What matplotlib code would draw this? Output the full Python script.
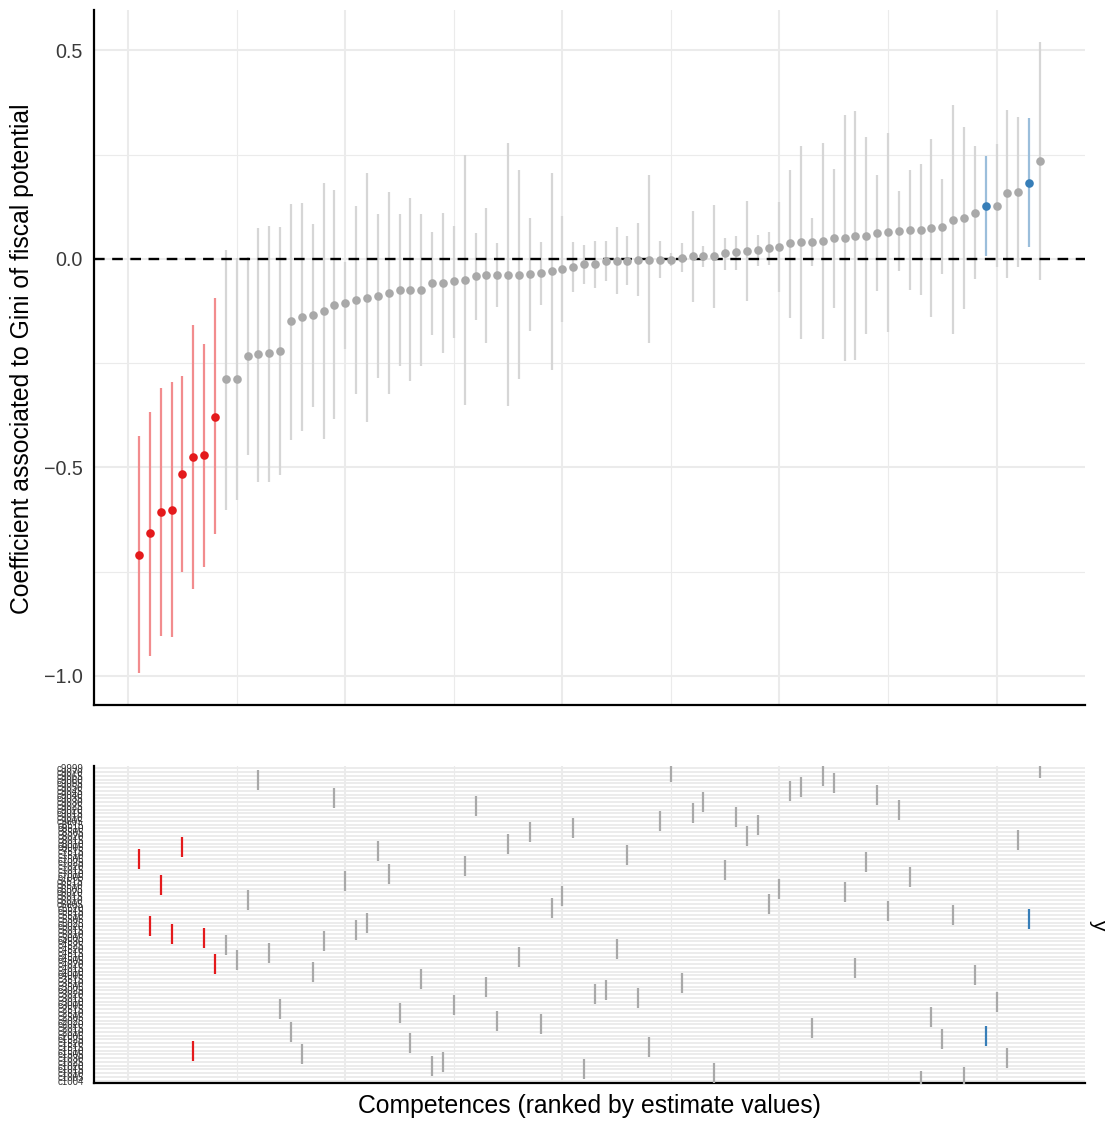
import numpy as np
import matplotlib
matplotlib.use('Agg')
from matplotlib import pyplot as plt
from matplotlib.ticker import MultipleLocator

plt.rcParams['font.family'] = ['Liberation Sans', 'DejaVu Sans']

# estimates ranked from lowest to highest, with their 95% intervals
estimate = [-0.709, -0.658, -0.606, -0.601, -0.517, -0.474, -0.471, -0.378, -0.289, -0.287,
            -0.233, -0.229, -0.226, -0.220, -0.150, -0.139, -0.135, -0.124, -0.110, -0.106,
            -0.098, -0.093, -0.089, -0.082, -0.075, -0.074, -0.074, -0.058, -0.057, -0.054,
            -0.050, -0.042, -0.039, -0.038, -0.038, -0.038, -0.037, -0.035, -0.030, -0.025,
            -0.020, -0.013, -0.012, -0.005, -0.005, -0.005, -0.002, -0.002, -0.002, -0.002,
            0.002, 0.006, 0.006, 0.008, 0.014, 0.017, 0.019, 0.022, 0.026, 0.029,
            0.037, 0.040, 0.041, 0.043, 0.049, 0.049, 0.055, 0.056, 0.061, 0.064,
            0.067, 0.070, 0.070, 0.073, 0.077, 0.093, 0.097, 0.111, 0.127, 0.127,
            0.157, 0.161, 0.183, 0.235]
conf_low = [-0.994, -0.952, -0.904, -0.906, -0.752, -0.791, -0.739, -0.659, -0.601, -0.578,
            -0.471, -0.534, -0.534, -0.518, -0.435, -0.412, -0.355, -0.431, -0.385, -0.217,
            -0.324, -0.390, -0.286, -0.324, -0.257, -0.293, -0.256, -0.182, -0.225, -0.189,
            -0.351, -0.147, -0.201, -0.115, -0.353, -0.289, -0.173, -0.110, -0.266, -0.152,
            -0.080, -0.060, -0.069, -0.053, -0.085, -0.062, -0.088, -0.201, -0.046, -0.018,
            -0.032, -0.104, -0.019, -0.118, -0.026, -0.026, -0.101, -0.018, -0.014, -0.080,
            -0.141, -0.192, -0.018, -0.192, -0.117, -0.245, -0.243, -0.179, -0.078, -0.176,
            -0.030, -0.074, -0.086, -0.139, -0.037, -0.181, -0.121, -0.048, 0.006, -0.019,
            -0.046, -0.019, 0.028, -0.050]
conf_high = [-0.425, -0.366, -0.309, -0.296, -0.281, -0.159, -0.204, -0.095, 0.022, 0.002,
             0.005, 0.073, 0.080, 0.077, 0.132, 0.133, 0.084, 0.183, 0.165, -0.007,
             0.127, 0.207, 0.108, 0.161, 0.108, 0.146, 0.108, 0.065, 0.110, 0.080,
             0.249, 0.062, 0.121, 0.037, 0.278, 0.214, 0.099, 0.040, 0.206, 0.102,
             0.040, 0.033, 0.043, 0.043, 0.076, 0.056, 0.085, 0.200, 0.043, 0.015,
             0.038, 0.115, 0.030, 0.129, 0.050, 0.056, 0.138, 0.058, 0.065, 0.137,
             0.214, 0.270, 0.099, 0.278, 0.216, 0.345, 0.354, 0.292, 0.201, 0.303,
             0.162, 0.214, 0.228, 0.288, 0.192, 0.369, 0.317, 0.270, 0.247, 0.275,
             0.358, 0.341, 0.337, 0.521]

# competence code of each ranked estimate
competence = ['c7505', 'c5020', 'c6510', 'c5010', 'c8005', 'c1510', 'c5005', 'c4020', 'c4525', 'c4505',
              'c6010', 'c9060', 'c4515', 'c2515', 'c2010', 'c1505', 'c4010', 'c4530', 'c9035', 'c6515',
              'c5015', 'c5025', 'c7515', 'c7010', 'c2510', 'c1520', 'c3515', 'c1020', 'c1025', 'c3005',
              'c7020', 'c9025', 'c3505', 'c2025', 'c8010', 'c4510', 'c8505', 'c2020', 'c5520', 'c6015',
              'c8510', 'c1015', 'c3020', 'c3025', 'c4520', 'c7510', 'c3015', 'c1515', 'c9005', 'c9070',
              'c3510', 'c9015', 'c9030', 'c1010', 'c7015', 'c9010', 'c8020', 'c8515', 'c6005', 'c6505',
              'c9045', 'c9050', 'c2015', 'c9065', 'c9055', 'c6020', 'c4015', 'c7025', 'c9040', 'c5515',
              'c9020', 'c7005', 'c1004', 'c2505', 'c1525', 'c5510', 'c1005', 'c4005', 'c2005', 'c3010',
              'c1030', 'c8015', 'c5505', 'c9999']

# ranks significantly below / above zero
neg_rank = [1, 2, 3, 4, 5, 6, 7, 8]
pos_rank = [79, 83]

y_ticks = [-1.0, -0.5, 0.0, 0.5]
y_tick_labels = ['\u22121.0', '\u22120.5', '0.0', '0.5']

n = len(estimate)
rank = np.arange(1, n + 1)
group = ['neg' if r in neg_rank else 'pos' if r in pos_rank else 'ns' for r in rank]
pt_col = {'neg': '#E41A1C', 'pos': '#377EB8', 'ns': '#A9A9A9'}
ci_col = {'neg': '#F28C8E', 'pos': '#9BBEDB', 'ns': '#D6D6D6'}

levels = sorted(set(competence))
row = np.array([levels.index(c) + 1 for c in competence])

W, H = 1108, 1124
fig = plt.figure(figsize=(W / 100, H / 100), dpi=100)
ax1 = fig.add_axes([94 / W, 1 - 705 / H, 991 / W, 695 / H])
ax2 = fig.add_axes([94 / W, 1 - 1083 / H, 991 / W, 317 / H])

GRID = '#EBEBEB'
xr = n - 1
for ax in (ax1, ax2):
    ax.set_xlim(1 - 0.05 * xr, n + 0.05 * xr)
    ax.xaxis.set_major_locator(MultipleLocator(20))
    ax.xaxis.set_minor_locator(MultipleLocator(10))
    ax.grid(which='major', axis='x', color=GRID, lw=1.5, zorder=0)
    ax.grid(which='minor', axis='x', color=GRID, lw=0.8, zorder=0)
    ax.tick_params(which='both', length=0, labelbottom=False)
    for s in ['top', 'right']:
        ax.spines[s].set_visible(False)
    for s in ['left', 'bottom']:
        ax.spines[s].set_color('black')
        ax.spines[s].set_linewidth(1.6)
    ax.set_axisbelow(True)

# top panel: estimates with intervals
lo, hi = min(conf_low), max(conf_high)
yr = hi - lo
ax1.set_ylim(lo - 0.05 * yr, hi + 0.05 * yr)
ax1.set_yticks(y_ticks)
ax1.set_yticklabels(y_tick_labels)
ax1.yaxis.set_minor_locator(MultipleLocator(0.25))
ax1.grid(which='major', axis='y', color=GRID, lw=1.5, zorder=0)
ax1.grid(which='minor', axis='y', color=GRID, lw=0.8, zorder=0)
ax1.tick_params(axis='y', labelsize=14.2, labelcolor='#3A3A3A', pad=8)

for g in ['ns', 'neg', 'pos']:
    idx = [i for i in range(n) if group[i] == g]
    ax1.vlines(rank[idx], np.array(conf_low)[idx], np.array(conf_high)[idx],
               colors=ci_col[g], lw=1.6, zorder=2)
ax1.axhline(0, color='black', lw=1.7, ls=(0, (4.5, 3.2)), zorder=3)
for g in ['ns', 'neg', 'pos']:
    idx = [i for i in range(n) if group[i] == g]
    ax1.plot(rank[idx], np.array(estimate)[idx], 'o', ms=6.2, color=pt_col[g], mec='none', zorder=4)

# bottom panel: which competence each estimate belongs to
ax2.set_ylim(0.4, len(levels) + 0.6)
ax2.set_yticks(np.arange(1, len(levels) + 1))
ax2.set_yticklabels(levels)
ax2.grid(which='major', axis='y', color=GRID, lw=1.3, zorder=0)
ax2.tick_params(axis='y', labelsize=7, labelcolor='#333333', pad=7.5)
for g in ['ns', 'neg', 'pos']:
    idx = [i for i in range(n) if group[i] == g]
    ax2.plot(rank[idx], row[idx], '|', ms=15, mew=1.6, color=pt_col[g], zorder=3)

fig.text(22 / W, 1 - 358.5 / H, 'Coefficient associated to Gini of fiscal potential',
         rotation=90, ha='center', va='center', fontsize=17.8)
fig.text(589 / W, 1 - 1106 / H, 'Competences (ranked by estimate values)',
         ha='center', va='center', fontsize=17.8)
fig.text(1099 / W, 1 - 924.5 / H, 'y', rotation=-90, ha='center', va='center', fontsize=15)

plt.savefig('out.png', dpi=100)
